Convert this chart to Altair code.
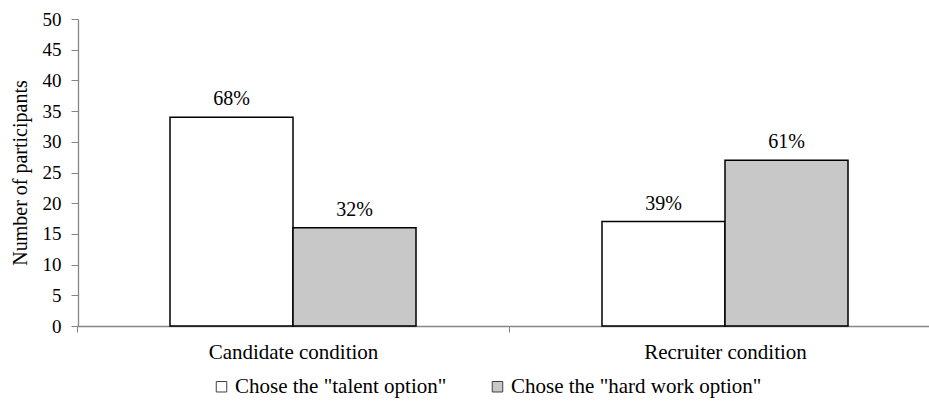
import altair as alt
import pandas as pd

conditions = ["Candidate condition", "Candidate condition", "Recruiter condition", "Recruiter condition"]
options = ['Chose the "talent option"', 'Chose the "hard work option"',
           'Chose the "talent option"', 'Chose the "hard work option"']
counts = [34, 16, 17, 27]
pct_labels = ["68%", "32%", "39%", "61%"]

option_order = ['Chose the "talent option"', 'Chose the "hard work option"']
fill_colors = ["#ffffff", "#c8c8c8"]
y_ticks = [0, 5, 10, 15, 20, 25, 30, 35, 40, 45, 50]

df = pd.DataFrame({"condition": conditions, "option": options, "count": counts, "label": pct_labels})

FONT = "Liberation Serif"

x_axis = alt.Axis(labelAngle=0, labelFont=FONT, labelFontSize=21, labelColor="black",
                  labelLimit=0, labelPadding=9, tickBand="extent", tickSize=6,
                  tickColor="#868686", domainColor="#868686", domainWidth=1.3, grid=False)
y_axis = alt.Axis(values=y_ticks, labelOverlap=False, labelFont=FONT, labelFontSize=19,
                  labelColor="black", labelPadding=10, tickSize=7, tickColor="#868686",
                  domainColor="#868686", domainWidth=1.3, grid=False, titleFont=FONT,
                  titleFontSize=20, titleFontWeight="normal", titleColor="black",
                  titlePadding=12)

x_enc = alt.X("condition:N", title=None,
              scale=alt.Scale(range=[-1, 863], paddingInner=0, paddingOuter=0),
              axis=x_axis)
xo_enc = alt.XOffset("option:N", sort=option_order,
                     scale=alt.Scale(paddingInner=0, paddingOuter=0.756))
y_enc = alt.Y("count:Q", title="Number of participants",
              scale=alt.Scale(domain=[0, 50], nice=False), axis=y_axis)

base = alt.Chart(df).encode(x=x_enc, xOffset=xo_enc, y=y_enc)

bars = base.mark_bar(stroke="black", strokeWidth=1.5).encode(
    fill=alt.Fill("option:N", sort=option_order,
                  scale=alt.Scale(domain=option_order, range=fill_colors),
                  legend=alt.Legend(title=None, orient="none", direction="horizontal",
                                    legendX=133, legendY=357,
                                    symbolType="square", symbolSize=110,
                                    symbolStrokeColor="#404040", symbolStrokeWidth=1,
                                    labelFont=FONT, labelFontSize=21, labelColor="black",
                                    labelLimit=0, labelOffset=3, columnPadding=40)),
)

text = base.mark_text(font=FONT, fontSize=20, color="black", dy=-12,
                      baseline="alphabetic").encode(
    text="label:N",
)

chart = alt.layer(bars, text).properties(
    width=851, height=307,
    autosize=alt.AutoSizeParams(type="none"),
    padding={"left": 78, "top": 19, "right": 0, "bottom": 81},
).configure(background="white", font=FONT).configure_view(stroke=None)

chart.save("out.html", embed_options={"renderer": "svg", "actions": False})
